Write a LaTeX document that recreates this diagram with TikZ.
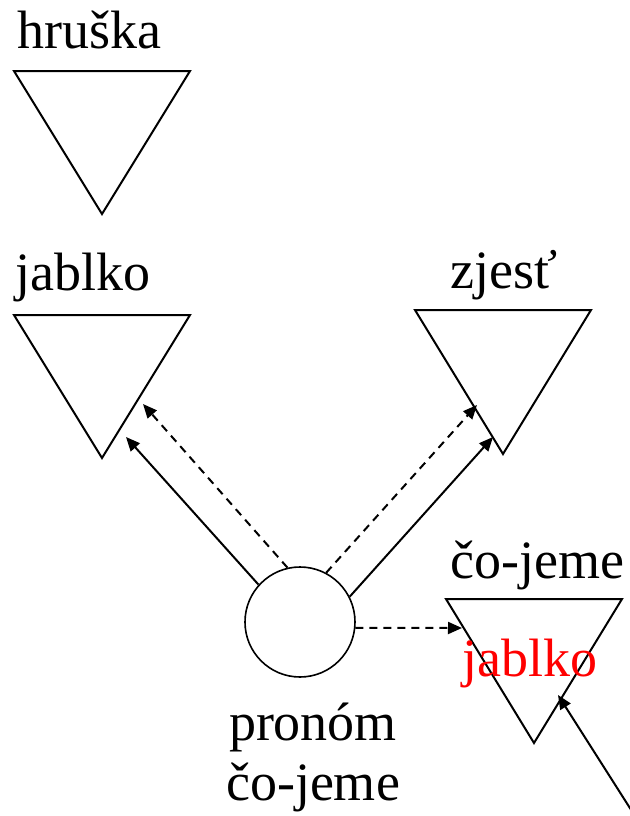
\documentclass[tikz,border=0pt]{standalone}
\usepackage{fontspec}
\setmainfont{Liberation Serif}
\usetikzlibrary{arrows.meta}
\tikzset{
  tri/.style={line width=1pt},
  lbl/.style={anchor=base west,inner sep=0pt,font=\fontsize{27}{30}\selectfont},
  link/.style={line width=1pt,-{Triangle[length=7pt,width=6pt]}},
  hint/.style={link,dash pattern=on 4pt off 3pt}
}
\begin{document}
\begin{tikzpicture}[x=0.5pt,y=-0.5pt]
\useasboundingbox (0,0) rectangle (629,816);
\begin{scope}[shift={(14,71)}]
\draw[tri] (0,0) -- (176,0) -- (88,143) -- cycle;
\end{scope}
\begin{scope}[shift={(14,315)}]
\draw[tri] (0,0) -- (176,0) -- (88,143) -- cycle;
\coordinate (jabIn) at (112,122);
\coordinate (jabHint) at (129,89);
\end{scope}
\begin{scope}[shift={(415,310)}]
\draw[tri] (0,0) -- (176,0) -- (88,144) -- cycle;
\coordinate (zjeHint) at (62,95);
\coordinate (zjeIn) at (78,127);
\end{scope}
\begin{scope}[shift={(446,599)}]
\draw[tri] (0,0) -- (176,0) -- (88,144) -- cycle;
\coordinate (coHint) at (16,29);
\coordinate (coIn) at (112,96);
\end{scope}
\node[lbl] (hru) at (17,48) {hruška};
\node[lbl] (jab) at (15,290) {jablko};
\node[lbl] (zje) at (450,288) {zjesť};
\node[lbl] (coj) at (450,578) {čo-jeme};
\node[lbl,text=red] (cored) at (462,676) {jablko};
\node[circle,draw,line width=0.8pt,minimum size=55pt,inner sep=0pt] (pron) at (300,622) {};
\node[lbl,anchor=base] (pr1) at (313,740) {pronóm};
\node[lbl,anchor=base] (pr2) at (313,800) {čo-jeme};
\coordinate (tail) at (635,816);
\draw[link] (pron.138) -- (jabIn);
\draw[hint] (pron.103) -- (jabHint);
\draw[hint] (pron.62) -- (zjeHint);
\draw[link] (pron.27) -- (zjeIn);
\draw[hint] (pron.-6) -- (coHint);
\draw[link] (tail) -- (coIn);
\end{tikzpicture}
\end{document}
